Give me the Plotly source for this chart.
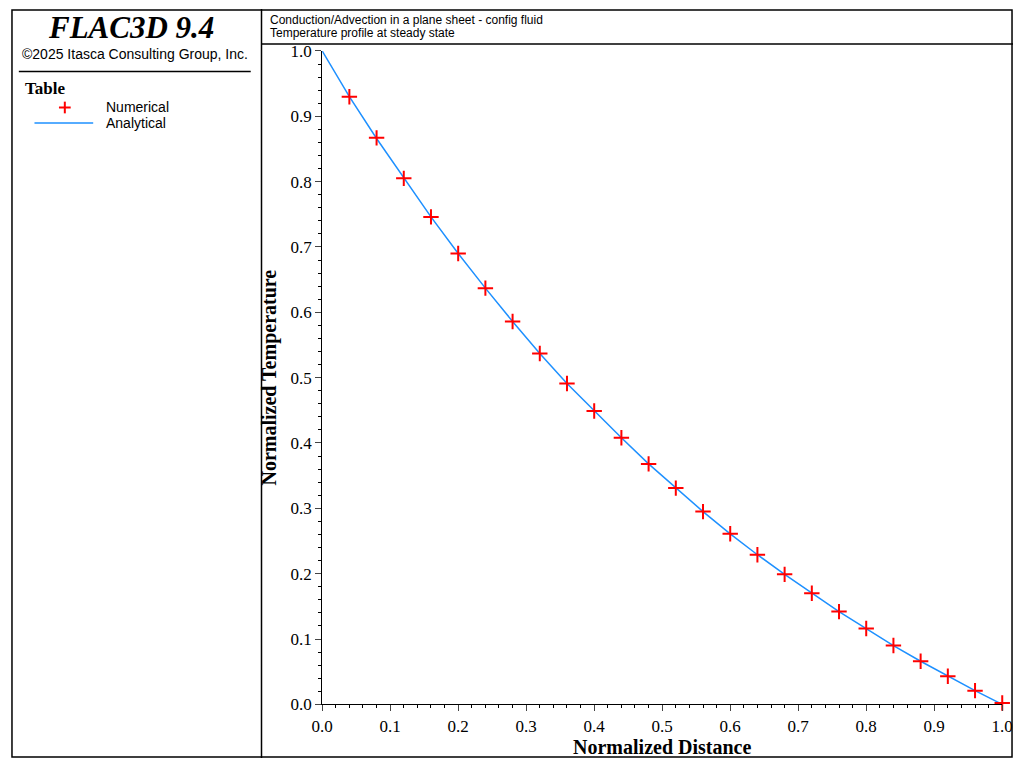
import plotly.graph_objects as go

num_x = [0.04, 0.08, 0.12, 0.16, 0.20, 0.24, 0.28, 0.32, 0.36, 0.40, 0.44, 0.48, 0.52,
         0.56, 0.60, 0.64, 0.68, 0.72, 0.76, 0.80, 0.84, 0.88, 0.92, 0.96, 1.00]
num_t = [0.930, 0.867, 0.805, 0.746, 0.690, 0.637, 0.586, 0.537, 0.491, 0.449, 0.408,
         0.368, 0.331, 0.295, 0.261, 0.229, 0.199, 0.170, 0.142, 0.116, 0.090, 0.066,
         0.043, 0.021, 0.002]
ana_x = [0.0] + num_x
ana_t = [1.0, 0.930, 0.866, 0.805, 0.746, 0.690, 0.637, 0.586, 0.537, 0.491, 0.449, 0.408,
         0.368, 0.331, 0.295, 0.261, 0.229, 0.199, 0.170, 0.142, 0.116, 0.090, 0.066,
         0.043, 0.021, 0.0]

W, H = 1024, 768
x0, x1 = 318 / W, 1013 / W
y0, y1 = 1 - 713 / H, 1 - 43 / H
serif = "Liberation Serif, Times New Roman, serif"
sans = "Liberation Sans, Arial, sans-serif"

fig = go.Figure()
fig.add_trace(go.Scatter(x=ana_x, y=ana_t, mode="lines", line=dict(color="#1e90ff", width=1.5),
                         showlegend=False))
fig.add_trace(go.Scatter(x=num_x, y=num_t, mode="markers",
                         marker=dict(symbol="cross-thin", size=11, line=dict(color="#ff0000", width=2)),
                         showlegend=False, cliponaxis=False))

axis = dict(range=[0, 1], dtick=0.1, tickformat=".1f", ticks="outside", ticklen=6,
            showgrid=False, zeroline=False, showline=True, linecolor="black",
            tickfont=dict(family=serif, size=17, color="black"),
            minor=dict(ticks="outside", ticklen=3, dtick=0.02, tickcolor="black"))
fig.update_layout(
    width=W, height=H, margin=dict(l=0, r=0, t=0, b=0),
    paper_bgcolor="white", plot_bgcolor="white",
    xaxis=dict(axis, domain=[x0, x1],
               title=dict(text="<b>Normalized Distance</b>", font=dict(family=serif, size=20, color="black"), standoff=4)),
    yaxis=dict(axis, domain=[y0, y1],
               title=dict(text="<b>Normalized Temperature</b>", font=dict(family=serif, size=20, color="black"), standoff=8)),
)

line = dict(color="black", width=1.5)
fig.add_shape(type="rect", xref="paper", yref="paper", line=line, x0=1 / W, y0=1 / H, x1=1 - 1 / W, y1=1 - 1 / H)
fig.add_shape(type="line", xref="paper", yref="paper", x0=256 / W, x1=256 / W, y0=0, y1=1, line=line)
fig.add_shape(type="line", xref="paper", yref="paper", x0=256 / W, x1=1, y0=1 - 36 / H, y1=1 - 36 / H, line=line)
fig.add_shape(type="line", xref="paper", yref="paper", x0=8 / W, x1=245 / W, y0=1 - 64 / H, y1=1 - 64 / H, line=line)

def txt(x, y, t, size, fam):
    fig.add_annotation(x=x / W, y=1 - y / H, xref="paper", yref="paper", text=t, showarrow=False,
                       xanchor="left", yanchor="middle", font=dict(family=fam, size=size, color="black"))

txt(36, 19, "<b><i>FLAC3D 9.4</i></b>", 31, serif)
txt(9, 46, "©2025 Itasca Consulting Group, Inc.", 14, sans)
txt(12, 82, "<b>Table</b>", 17, serif)
txt(95, 100, "Numerical", 14, sans)
txt(95, 117, "Analytical", 14, sans)
txt(263, 11, "Conduction/Advection in a plane sheet - config fluid", 12, sans)
txt(263, 25, "Temperature profile at steady state", 12, sans)

# legend symbols
fig.add_shape(type="line", xref="paper", yref="paper", x0=24 / W, x1=84 / W, y0=1 - 117 / H, y1=1 - 117 / H,
              line=dict(color="#1e90ff", width=1.5))
fig.add_shape(type="line", xref="paper", yref="paper", x0=49 / W, x1=61 / W, y0=1 - 101 / H, y1=1 - 101 / H,
              line=dict(color="red", width=2))
fig.add_shape(type="line", xref="paper", yref="paper", x0=55 / W, x1=55 / W, y0=1 - 95 / H, y1=1 - 107 / H,
              line=dict(color="red", width=2))

fig.write_html("out.html", config={"displayModeBar": False},
               post_script="document.body.style.margin='0';document.body.style.overflow='hidden';"
                           "document.documentElement.style.overflow='hidden';")
